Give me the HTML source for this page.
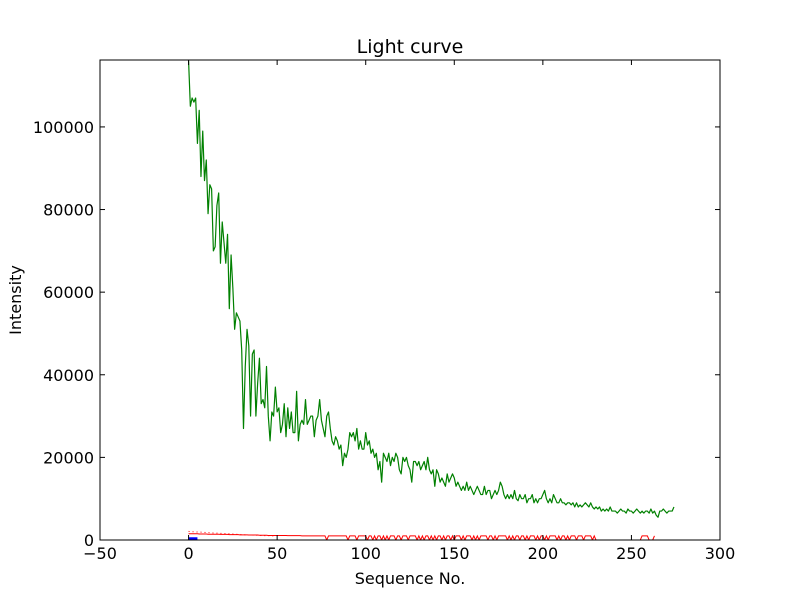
<!DOCTYPE html>
<html><head><meta charset="utf-8"><style>
html,body{margin:0;padding:0;background:#fff;}
svg text{font-family:"DejaVu Sans","Liberation Sans",sans-serif;}
</style></head><body>
<svg id="chart" width="800" height="600" xmlns="http://www.w3.org/2000/svg">
<rect width="800" height="600" fill="#fff"/>
<g id="plot"></g>
</svg>
<script>
const xTicks=[-50,0,50,100,150,200,250,300];
const yTicks=[0,20000,40000,60000,80000,100000];
const greenK=[116,105,107,106,107,96,104,88,99,87,92,79,86,85,70,71,81,84,67,77,72,67,74,56,69,61,51,55,54,53,46,27,42,51,47,30,45,46,30,38,44,33,34,32,42,30,24,31,30,37,
31,32,26,28,33,25,32,27,31,26,26,36,24,28,29,28,34,28,29,30,30,25,29,30,34,29,27,25,30,31,27,24,23,25,24,22,23,18,21,20,22,26,25,26,24,27,22,24,22,22,
26,23,24,21,22,20,21,17,19,14,21,20,19,21,18,20,19,21,20,17,16,20,19,20,18,
17,14,19,19,18,19,17,18,19,17,20,17,16,17,13,17,16,14,15,14,13,16,14,15,16,
15,13,14,13,12,13,12,14,12,13,12,11,12,13,12,11,11,13,11,12,12,10,11,12,11,
12,14,13,11,10,11,10,11,10,12,10,9.5,11,10,10,11,9,10,10,11,9,10,9,10,10,
11,12,10,9,10,9,11,10,9,9,10,9,9,8.5,9,9,8.5,9,8,9,8,8.5,8,8.5,9,
8.5,8,9,8,7.5,8,7.5,8,7,7.5,7,7.5,7,8,7,7,7,6.5,7,7.5,7,7,6.5,7.5,7,
7,6.5,7,7.5,7,6.5,7,6.5,7,7,6.5,7.5,6.5,7,6,5.5,7,7,7.5,7,6.5,7,7,7,8];
const redSolidK=[1.5,1.5,1.5,1.5,1.5,1.5,1.45,1.45,1.45,1.45,1.45,1.4,1.4,1.4,1.4,1.4,1.4,1.4,1.35,1.35,1.35,1.35,1.35,1.3,1.3,1.3,1.3,1.3,1.3,1.25,1.25,1.25,1.25,1.25,1.2,1.2,1.2,1.2,1.2,1.2,1.15,1.15,1.15,1.15,1.15,1.1,1.1,1.1,1.1,1.1,
1.1,1.1,1.1,1.1,1.1,1.1,1.05,1.05,1.05,1.05,1.05,1.05,1.05,1.05,1,1,1,1,1,1,1,1,1,1,1,1,1,1,0,1,1,1,1,1,1,1,1,1,1,1,
0,1,1,1,1,0,1,1,1,1,1,0,1,1,0,1,0,1,1,0,1,0,1,0,1,1,1,0,1,1,0,1,1,1,0,1,1,1,1,0,1,0,1,0,1,1,0,1,0,1,0,1,1,0,1,0,
1,1,0,1,0,1,1,1,0,1,0,1,1,1,0,1,0,1,0,1,1,1,1,0,1,1,0,1,0,1,1,1,1,1,0,1,0,1,0,1,1,0,1,1,0,1,0,1,1,1,0,1,0,1,
1,0,1,0,1,1,1,1,0,1,0,1,1,0,1,0,1,1,1,0,1,1,1,0,1,1,1,1,0,1,0,0,0,0,0,0,0,0,0,0,0,0,0,0,0,0,0,0,0,0,0,0,0,0,0,0,1,1,1,1,0,0,0,1];
const redDotK=[2.1,2.05,2,2,1.95,1.95,1.9,1.9,1.85,1.85,1.8,1.8,1.75,1.75,1.7,1.7,1.65,1.65,1.6,1.6,1.55,1.55,1.5,1.5,1.45,1.45,1.4,1.4,1.35,1.35,1.3,1.3,1.25,1.25,1.2,1.2,1.2,1.15,1.15,1.15,1.1,1.1,1.1,1.05,1.05,1.05,1,1,1,1];
const blueX=[0,1,2,3,4,5];
const blueK=[0.3,0.3,0.3,0.3,0.3,0.3];

const L=100,R=720,T=60,B=540,XMIN=-50,XMAX=300,YMIN=0,YMAX=116200;
const X=v=>L+(v-XMIN)/(XMAX-XMIN)*(R-L);
const Y=v=>B-(v-YMIN)/(YMAX-YMIN)*(B-T);
const NS='http://www.w3.org/2000/svg';
const g=document.getElementById('plot');
function mk(t,a){const e=document.createElementNS(NS,t);for(const k in a)e.setAttribute(k,a[k]);g.appendChild(e);return e;}
function pts(xs,ys){return ys.map((v,i)=>X(xs?xs[i]:i).toFixed(2)+','+Y(v*1000).toFixed(2)).join(' ');}

const clip=mk('clipPath',{id:'cp'});
const cr=document.createElementNS(NS,'rect');cr.setAttribute('x',L);cr.setAttribute('y',T);cr.setAttribute('width',R-L);cr.setAttribute('height',B-T);clip.appendChild(cr);

let e;
e=mk('polyline',{points:pts(null,redDotK),fill:'none',stroke:'#ff0000','stroke-width':1,'stroke-dasharray':'1,3','clip-path':'url(#cp)'});


e=mk('polyline',{points:pts(null,redSolidK),fill:'none',stroke:'#ff0000','stroke-width':1,'clip-path':'url(#cp)'});


e=mk('polyline',{points:pts(blueX,blueK),fill:'none',stroke:'#0000ff','stroke-width':3,'clip-path':'url(#cp)'});


e=mk('polyline',{points:pts(null,greenK),fill:'none',stroke:'#008000','stroke-width':1.2,'stroke-linejoin':'round','clip-path':'url(#cp)'});



e=mk('rect',{x:L,y:T,width:R-L,height:B-T,fill:'none',stroke:'#000','stroke-width':1});



xTicks.forEach(v=>{const x=X(v);
 mk('line',{x1:x,x2:x,y1:B,y2:B-5,stroke:'#000'});
 mk('line',{x1:x,x2:x,y1:T,y2:T+5,stroke:'#000'});
 const t=mk('text',{x:x,y:B+19,'text-anchor':'middle','font-size':16});t.textContent=v<0?'\u2212'+(-v):v;
 
 
});
yTicks.forEach(v=>{const y=Y(v);
 mk('line',{x1:L,x2:L+5,y1:y,y2:y,stroke:'#000'});
 mk('line',{x1:R,x2:R-5,y1:y,y2:y,stroke:'#000'});
 const t=mk('text',{x:L-6,y:y+6,'text-anchor':'end','font-size':16});t.textContent=v;
 
 
});
e=mk('text',{x:410,y:53,'text-anchor':'middle','font-size':19});e.textContent='Light curve';


e=mk('text',{x:410,y:584,'text-anchor':'middle','font-size':16});e.textContent='Sequence No.';


e=mk('text',{x:21,y:300,'text-anchor':'middle','font-size':16,transform:'rotate(-90 21 300)'});e.textContent='Intensity';


</script>
</body></html>
